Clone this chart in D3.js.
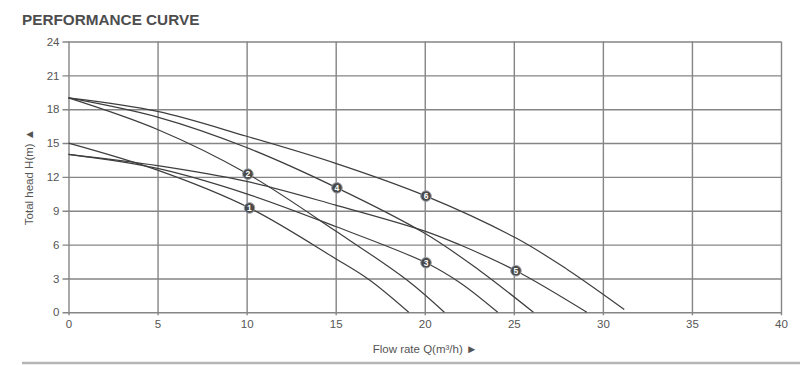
<!DOCTYPE html>
<html><head><meta charset="utf-8">
<script src="https://cdn.jsdelivr.net/npm/d3@7/dist/d3.min.js"></script>
<style>
html,body{margin:0;padding:0;background:#fff;}
svg{display:block;}
</style></head>
<body>
<script>
// ---- data ----
const title = "PERFORMANCE CURVE";
const xLabel = "Flow rate Q(m³/h) ►";
const yLabel = "Total head H(m) ▲";
const xTicks = [0,5,10,15,20,25,30,35,40];
const yTicks = [0,3,6,9,12,15,18,21,24];

const curveNames = ["1","2","3","4","5","6"];
const flow1 = [0, 5, 10.16, 15, 16.9, 19.1];
const head1 = [15, 12.6, 9.25, 4.75, 2.86, 0];
const flow2 = [0, 5, 10.07, 15, 19, 21.1];
const head2 = [19, 16.2, 12.25, 7.2, 2.86, 0];
const flow3 = [0, 5, 10, 15, 20.07, 22, 24.1];
const head3 = [14, 12.75, 10.5, 7.6, 4.39, 2.6, 0];
const flow4 = [0, 5, 10, 15.07, 20, 23, 26.1];
const head4 = [19, 17.3, 14.6, 11.03, 7.0, 3.8, 0];
const flow5 = [0, 5, 10, 15, 20, 22, 25.12, 29.1];
const head5 = [14, 13.0, 11.6, 9.5, 7.2, 5.96, 3.68, 0];
const flow6 = [0, 5, 10, 15, 20.07, 25.1, 28, 31.2];
const head6 = [19, 17.8, 15.6, 13.2, 10.3, 6.6, 3.8, 0.25];
// marker index (point on each curve where the numbered badge sits)
const markerIndex = [2, 2, 4, 3, 6, 4];

const flows = [flow1, flow2, flow3, flow4, flow5, flow6];
const heads = [head1, head2, head3, head4, head5, head6];

// ---- layout ----
const W = 800, H = 365;
const mLeft = 68.5, mRight = 781, mTop = 41.5, mBottom = 312.3;
const svg = d3.select("body").append("svg").attr("width", W).attr("height", H);

const x = d3.scaleLinear().domain([0, 40]).range([mLeft, mRight]);
const y = d3.scaleLinear().domain([0, 24]).range([mBottom, mTop]);

const gridColor = "#858585";
const textColor = "#555";
const font = "'Liberation Sans', Arial, sans-serif";

// title
svg.append("text").attr("x", 22).attr("y", 25)
  .attr("font-family", font).attr("font-weight", "bold").attr("font-size", 15.3)
  .attr("fill", "#4d4d4d").text(title);

// grid via axes
const gx = svg.append("g").attr("transform", `translate(0,${mBottom})`)
  .call(d3.axisBottom(x).tickValues(xTicks).tickSize(-(mBottom - mTop)).tickSizeOuter(0).tickPadding(8));
gx.select(".domain").remove();
gx.selectAll(".tick line").attr("stroke", gridColor).attr("stroke-width", 1.4)
  .attr("y1", 3);
gx.selectAll(".tick text").attr("fill", textColor).attr("font-size", 11.5).attr("font-family", font);

const gy = svg.append("g").attr("transform", `translate(${mLeft},0)`)
  .call(d3.axisLeft(y).tickValues(yTicks).tickSize(-(mRight - mLeft)).tickSizeOuter(0).tickPadding(9));
gy.select(".domain").remove();
gy.selectAll(".tick line").attr("stroke", gridColor).attr("stroke-width", 1.4)
  .attr("x1", -6);
gy.selectAll(".tick text").attr("fill", textColor).attr("font-size", 11.5).attr("font-family", font);

// curves
const line = d3.line().x(d => x(d[0])).y(d => y(d[1])).curve(d3.curveCatmullRom.alpha(0.5));
flows.forEach((f, i) => {
  const pts = f.map((q, j) => [q, heads[i][j]]);
  svg.append("path").attr("d", line(pts)).attr("fill", "none")
    .attr("stroke", "#3e3e3e").attr("stroke-width", 1.2);
});

// markers
flows.forEach((f, i) => {
  const k = markerIndex[i];
  const cx = x(f[k]), cy = y(heads[i][k]);
  svg.append("circle").attr("cx", cx).attr("cy", cy).attr("r", 5.3)
    .attr("fill", "#4a4a4a").attr("stroke", "#9aa0a8").attr("stroke-width", 1);
  svg.append("text").attr("x", cx).attr("y", cy + 3)
    .attr("text-anchor", "middle").attr("font-family", font).attr("font-weight", "bold")
    .attr("font-size", 8.5).attr("fill", "#fff").text(curveNames[i]);
});

// axis titles
svg.append("text").attr("x", 425).attr("y", 353).attr("text-anchor", "middle")
  .attr("font-family", font).attr("font-size", 11.5).attr("fill", textColor).text(xLabel);
svg.append("text").attr("transform", `translate(33,177) rotate(-90)`).attr("text-anchor", "middle")
  .attr("font-family", font).attr("font-size", 11.5).attr("fill", textColor).text(yLabel);

// bottom rule
svg.append("line").attr("x1", 22).attr("x2", 800).attr("y1", 363).attr("y2", 363)
  .attr("stroke", "#b5b5b5").attr("stroke-width", 2.5);
</script>
</body></html>
